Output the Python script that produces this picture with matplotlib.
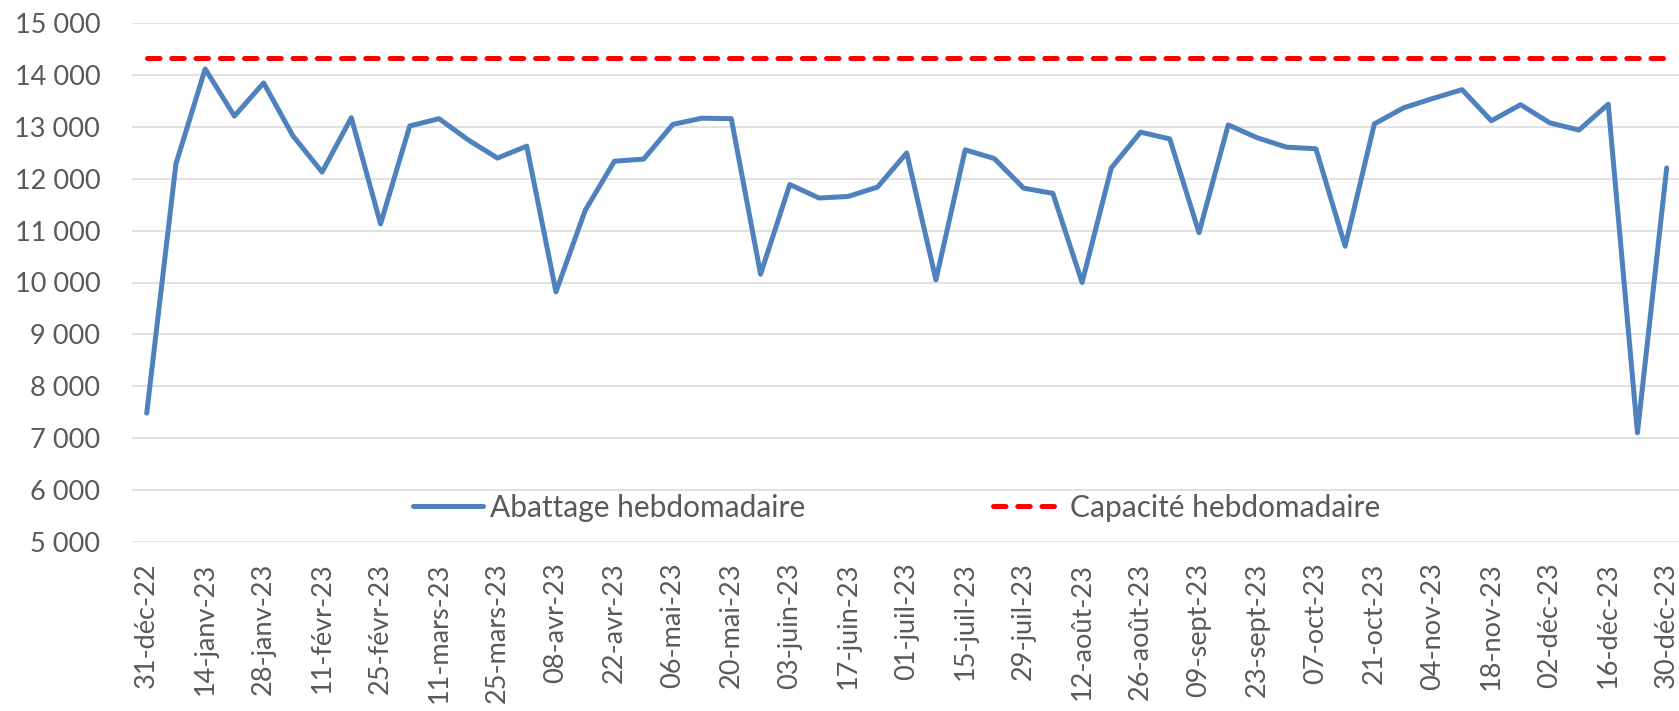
import matplotlib
matplotlib.use("Agg")
import matplotlib.pyplot as plt
from matplotlib.ticker import FuncFormatter, FixedLocator

# Weekly slaughter volumes, week starting 31 Dec 2022 through 30 Dec 2023
abattage = [7480, 12290, 14120, 13210, 13850, 12830, 12130, 13180, 11130, 13020,
            13160, 12750, 12400, 12630, 9820, 11390, 12340, 12380, 13050, 13170,
            13160, 10160, 11890, 11630, 11660, 11840, 12500, 10050, 12560, 12390,
            11820, 11720, 10000, 12210, 12900, 12770, 10960, 13040, 12790, 12610,
            12580, 10700, 13060, 13370, 13550, 13720, 13120, 13430, 13080, 12940,
            13440, 7100, 12210]

# Weekly capacity (constant)
capacite = 14330

# Labels shown every second week
date_labels = ["31-déc-22", "14-janv-23", "28-janv-23", "11-févr-23", "25-févr-23",
               "11-mars-23", "25-mars-23", "08-avr-23", "22-avr-23", "06-mai-23",
               "20-mai-23", "03-juin-23", "17-juin-23", "01-juil-23", "15-juil-23",
               "29-juil-23", "12-août-23", "26-août-23", "09-sept-23", "23-sept-23",
               "07-oct-23", "21-oct-23", "04-nov-23", "18-nov-23", "02-déc-23",
               "16-déc-23", "30-déc-23"]

y_ticks = [5000, 6000, 7000, 8000, 9000, 10000, 11000, 12000, 13000, 14000, 15000]

plt.rcParams['font.family'] = ['Lato', 'DejaVu Sans']
text_color = "#595959"
fs = 19.5

W, H = 1679, 711
fig = plt.figure(figsize=(W / 100, H / 100), dpi=100)
ax = fig.add_axes([132.1 / W, (H - 541.7) / H, 1549.2 / W, (541.7 - 23.3) / H])

weeks = list(range(len(abattage)))
line_ab, = ax.plot(weeks, abattage, color="#4F81BD", lw=3.6,
                   solid_joinstyle="round", solid_capstyle="round",
                   label="Abattage hebdomadaire", zorder=3)
line_cap, = ax.plot(weeks, [capacite] * len(weeks), color="#FF0000", lw=3.6,
                    dashes=(2.5, 2.35), dash_capstyle="round",
                    label="Capacité hebdomadaire", zorder=3)

ax.set_xlim(-0.5, len(weeks) - 0.5)
ax.set_ylim(y_ticks[0], y_ticks[-1])

ax.yaxis.set_major_locator(FixedLocator(y_ticks))
ax.yaxis.set_major_formatter(FuncFormatter(lambda v, p: f"{v:,.0f}".replace(",", " ")))
ax.set_xticks(list(range(0, len(weeks), 2)))
ax.set_xticklabels(date_labels, rotation=90, va="top", ha="center")

ax.grid(axis="y", color="#D9D9D9", lw=1.1)
ax.set_axisbelow(True)
for s in ax.spines.values():
    s.set_visible(False)

ax.tick_params(axis="y", length=0, pad=23, labelsize=fs, labelcolor=text_color)
ax.tick_params(axis="x", length=0, pad=15, labelsize=fs, labelcolor=text_color)

leg_fs = 21.5
leg = ax.legend(handles=[line_ab, line_cap], ncol=2, frameon=False,
                loc="center", bbox_to_anchor=(896.5 / W, (H - 507.7) / H),
                bbox_transform=fig.transFigure, fontsize=leg_fs,
                handlelength=70 / (leg_fs * 100 / 72),
                handletextpad=7 / (leg_fs * 100 / 72),
                columnspacing=188 / (leg_fs * 100 / 72),
                borderpad=0, borderaxespad=0)
for t in leg.get_texts():
    t.set_color(text_color)

fig.savefig("out.png", dpi=100, facecolor="white")
